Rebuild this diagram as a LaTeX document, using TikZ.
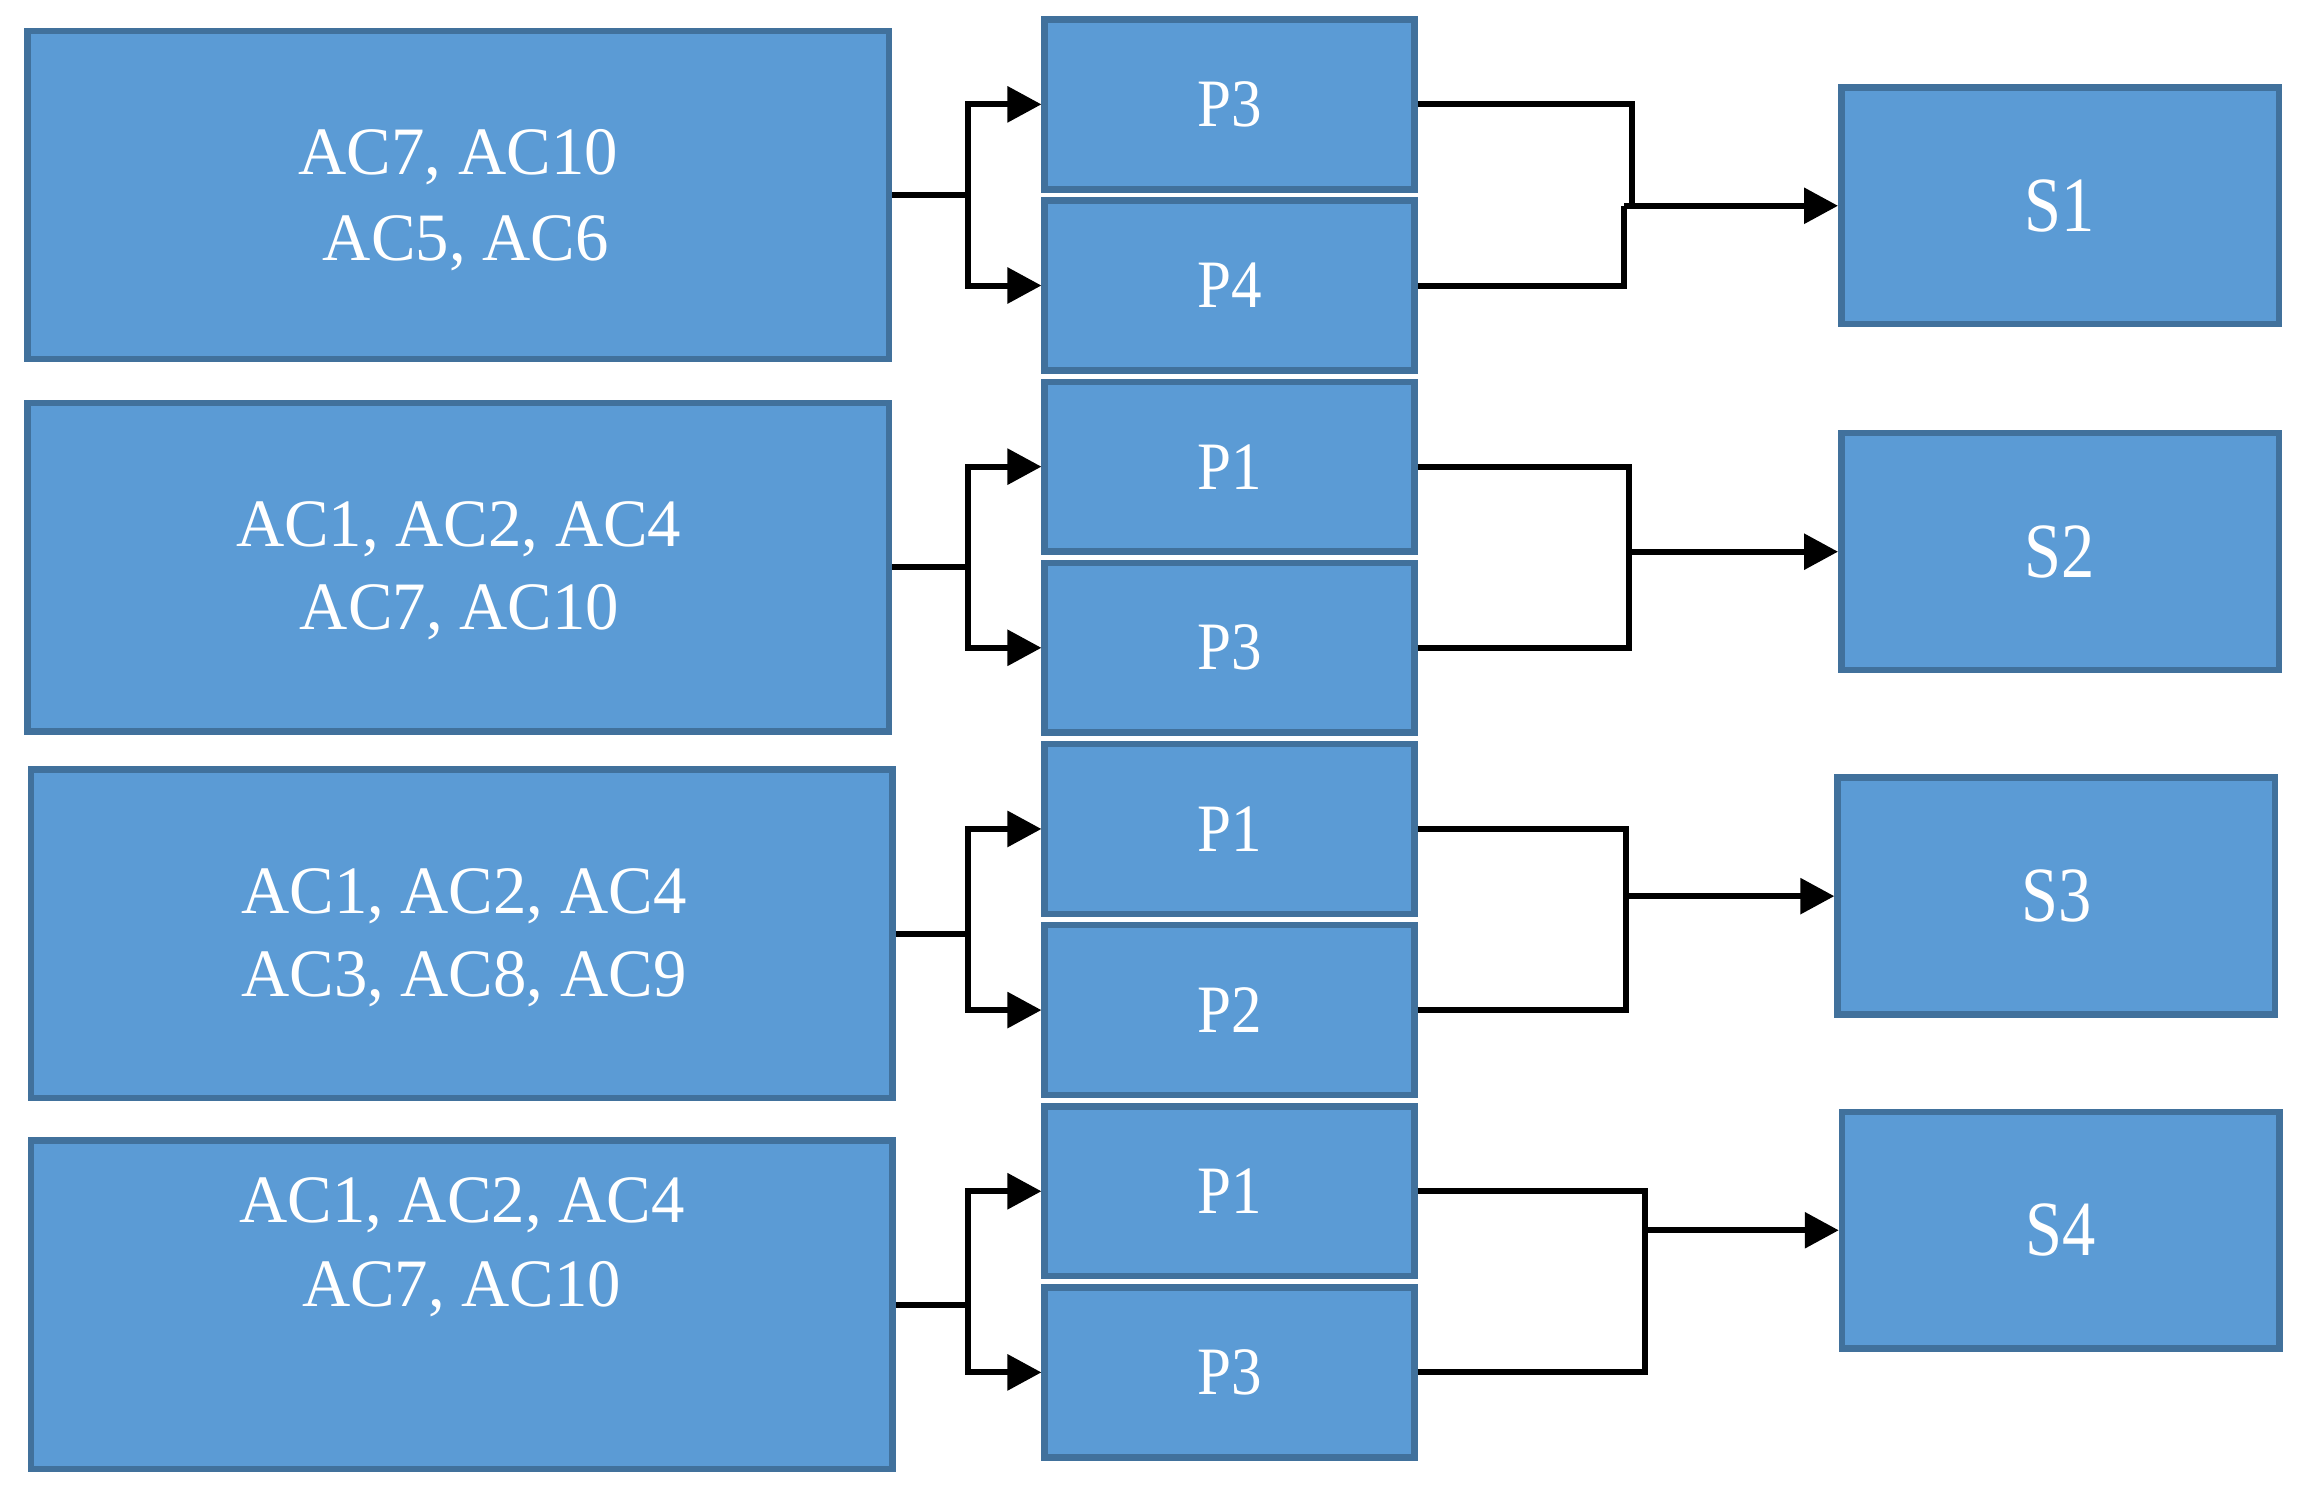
\documentclass[tikz,border=0pt]{standalone}
\usepackage{fontspec}
\setmainfont{Liberation Serif}
\newfontfamily\acfont[FakeStretch=0.985]{Liberation Serif}
\newfontfamily\pfont[FakeStretch=0.9]{Liberation Serif}
\newfontfamily\sfont[FakeStretch=0.85]{Liberation Serif}
\usetikzlibrary{arrows.meta}
\definecolor{boxfill}{HTML}{5B9BD5}
\definecolor{boxline}{HTML}{41719C}
\begin{document}
\begin{tikzpicture}[x=0.7375pt,y=-0.7375pt,
  box/.style={draw=boxline, fill=boxfill, line width=3.25pt, inner sep=0pt,
    text=white, align=center},
  abox/.style={box, minimum width=584*0.7375pt, minimum height=222.5*0.7375pt},
  pbox/.style={box, minimum width=250.6*0.7375pt, minimum height=115.1*0.7375pt,
    font=\pfont\fontsize{33.9pt}{40pt}\selectfont},
  sbox/.style={box, minimum width=296.6*0.7375pt, minimum height=160.6*0.7375pt,
    font=\sfont\fontsize{39.1pt}{44pt}\selectfont},
  conn/.style={draw=black, line width=3pt, line join=miter},
  arr/.style={conn, -{Triangle[length=17pt, width=17.5pt]}},
  lbl/.style={text=white, inner sep=0pt, anchor=base,
    font=\acfont\fontsize{33.9pt}{40pt}\selectfont}
]
\useasboundingbox (0,0) rectangle (1568,1012.2);

% left boxes
\node[abox] (A1) at (310.5,132.25) {};
\node[abox] (A2) at (310.5,384.5) {};
\node[abox] (A3) at (313,633) {};
\node[abox] (A4) at (313,884.5) {};
\node[lbl] (A1a) at (310.7,118) {AC7, AC10};
\node[lbl] (A1b) at (315.8,176.3) {AC5, AC6};
\node[lbl] (A2a) at (311,370.5) {AC1, AC2, AC4};
\node[lbl] (A2b) at (311.5,426.5) {AC7, AC10};
\node[lbl] (A3a) at (314.5,619.5) {AC1, AC2, AC4};
\node[lbl] (A3b) at (314.5,675.5) {AC3, AC8, AC9};
\node[lbl] (A4a) at (313.2,829) {AC1, AC2, AC4};
\node[lbl] (A4b) at (313,885.4) {AC7, AC10};

% middle boxes
\node[pbox] (P1) at (833.5,70.75) {P3};
\node[pbox] (P2) at (833.5,193.55) {P4};
\node[pbox] (P3) at (833.5,316.35) {P1};
\node[pbox] (P4) at (833.5,439.15) {P3};
\node[pbox] (P5) at (833.5,561.95) {P1};
\node[pbox] (P6) at (833.5,684.75) {P2};
\node[pbox] (P7) at (833.5,807.55) {P1};
\node[pbox] (P8) at (833.5,930.35) {P3};

% right boxes
\node[sbox] (S1) at (1396.5,139.5) {S1};
\node[sbox] (S2) at (1396.5,374) {S2};
\node[sbox] (S3) at (1394,607.5) {S3};
\node[sbox] (S4) at (1397,834) {S4};

% junctions left
\coordinate (j1) at (656,132.25);
\coordinate (j2) at (656,384.5);
\coordinate (j3) at (656,633);
\coordinate (j4) at (656,884.5);
\draw[conn] (A1.east) -- (j1);
\draw[conn] (A2.east) -- (j2);
\draw[conn] (A3.east) -- (j3);
\draw[conn] (A4.east) -- (j4);
\draw[arr] (j1) |- (P1.west);
\draw[arr] (j1) |- (P2.west);
\draw[arr] (j2) |- (P3.west);
\draw[arr] (j2) |- (P4.west);
\draw[arr] (j3) |- (P5.west);
\draw[arr] (j3) |- (P6.west);
\draw[arr] (j4) |- (P7.west);
\draw[arr] (j4) |- (P8.west);

% junctions right
\coordinate (k1a) at (1106,139.5);
\coordinate (k1b) at (1101,139.5);
\coordinate (k2) at (1104,374);
\coordinate (k3) at (1102,607.5);
\coordinate (k4) at (1115,834);
\draw[conn] (P1.east) -| (k1a);
\draw[conn] (P2.east) -| (k1b);
\draw[arr] (k1b) -- (S1.west);
\draw[conn] (P3.east) -| (k2);
\draw[conn] (P4.east) -| (k2);
\draw[arr] (k2) -- (S2.west);
\draw[conn] (P5.east) -| (k3);
\draw[conn] (P6.east) -| (k3);
\draw[arr] (k3) -- (S3.west);
\draw[conn] (P7.east) -| (k4);
\draw[conn] (P8.east) -| (k4);
\draw[arr] (k4) -- (S4.west);
\end{tikzpicture}
\end{document}
